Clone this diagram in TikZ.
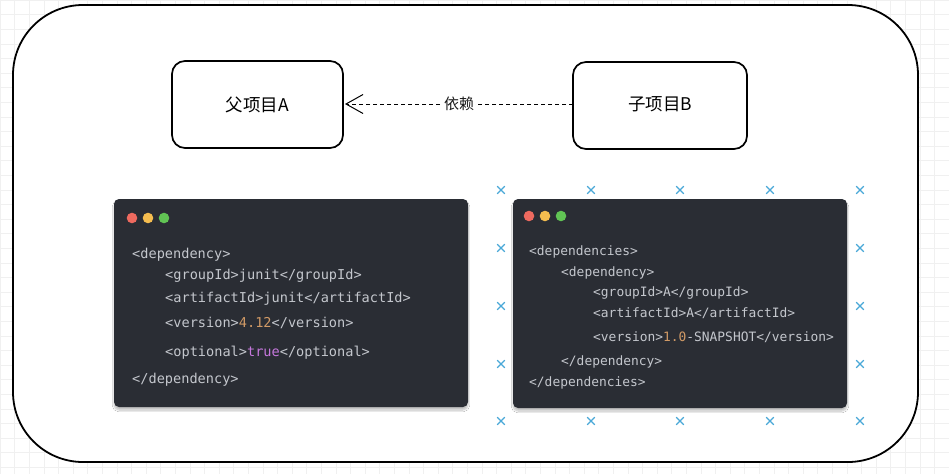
\documentclass[tikz,border=0pt]{standalone}
\usepackage{fontspec}
\newfontfamily\cjk{Noto Sans CJK SC}
\setmonofont{DejaVu Sans Mono}
\usetikzlibrary{arrows.meta,shadows.blur}
\definecolor{panelbg}{HTML}{2A2D34}
\definecolor{codefg}{HTML}{C4C7CD}
\definecolor{numc}{HTML}{D19A66}
\definecolor{kwc}{HTML}{C678DD}
\definecolor{dotr}{HTML}{EE6A5F}
\definecolor{doty}{HTML}{F5BD4F}
\definecolor{dotg}{HTML}{61C454}
\definecolor{xblue}{HTML}{4AA8D8}
\definecolor{gridc}{HTML}{F0F0F0}
\tikzset{
  sketchbox/.style={draw=black, line width=1.7pt, rounded corners=13pt},
  panel/.style={fill=panelbg, rounded corners=5pt, blur shadow={shadow blur steps=8, shadow xshift=0pt, shadow yshift=-3pt, shadow opacity=25}},
  codeA/.style={anchor=base west, inner sep=0pt, text=codefg, font=\fontsize{13.6}{15}\ttfamily},
  codeB/.style={anchor=base west, inner sep=0pt, text=codefg, font=\fontsize{12.9}{15}\ttfamily},
  boxlabel/.style={font=\cjk\fontsize{17.5}{20}\selectfont, text=black},
  depline/.style={dashed, dash pattern=on 4pt off 3pt, line width=0.9pt, -{Straight Barb[length=17pt,width=19pt,line width=1pt]}},
  xmark/.style={draw=xblue, line width=1.2pt}
}
\begin{document}
\begin{tikzpicture}[x=1pt,y=-1pt]
\useasboundingbox (0,0) rectangle (949,474);
% background grid
\fill[white] (0,0) rectangle (949,474);
\foreach \gx in {0,14.6,...,949} \draw[gridc, line width=0.6pt] (\gx,0) -- (\gx,474);
\foreach \gy in {0,14.6,...,474} \draw[gridc, line width=0.6pt] (0,\gy) -- (949,\gy);
% big frame
\draw[fill=white, line width=1.8pt, rounded corners=70pt] (13,5) rectangle (918,462);

% boxes
\draw[sketchbox] (172,61) rectangle (343,148);
\node[boxlabel] (A) at (257.5,104.5) {父项目A};
\draw[sketchbox] (573,62) rectangle (747,149);
\node[boxlabel] (B) at (660,104.5) {子项目B};
\coordinate (Aedge) at (345,104);
\coordinate (Bedge) at (573,104);
\draw[depline] (Bedge) -- node[fill=white, inner sep=1pt, font=\cjk\fontsize{15}{18}\selectfont, text=black!90] (dep) {依赖} (Aedge);

% blue x marks
\foreach \px/\py in {501/190,591/190,680/190,770/190,860/190,501/248,860/248,501/306,860/306,501/364,860/364,501/421,591/421,680/421,770/421,860/421}
  \draw[xmark] (\px-3.8,\py-3.8) -- (\px+3.8,\py+3.8) (\px-3.8,\py+3.8) -- (\px+3.8,\py-3.8);

% panel 1
\fill[panel] (114,199) rectangle (468,407);
\fill[dotr] (132,218) circle (5.3pt);
\fill[doty] (148,218) circle (5.3pt);
\fill[dotg] (164,218) circle (5.3pt);
\node[codeA] (a1) at (132,258.5) {<dependency>};
\node[codeA] (a2) at (165,279.5) {<groupId>junit</groupId>};
\node[codeA] (a3) at (165,302.5) {<artifactId>junit</artifactId>};
\node[codeA] (a4) at (165,327.5) {<version>\textcolor{numc}{4.12}</version>};
\node[codeA] (a5) at (165,356.5) {<optional>\textcolor{kwc}{true}</optional>};
\node[codeA] (a6) at (132,383.5) {</dependency>};

% panel 2
\fill[panel] (513,199) rectangle (847,408);
\fill[dotr] (529,216) circle (5.3pt);
\fill[doty] (545,216) circle (5.3pt);
\fill[dotg] (561,216) circle (5.3pt);
\node[codeB] (b1) at (529,255) {<dependencies>};
\node[codeB] (b2) at (561,276) {<dependency>};
\node[codeB] (b3) at (593,296.5) {<groupId>A</groupId>};
\node[codeB] (b4) at (593,317.5) {<artifactId>A</artifactId>};
\node[codeB] (b5) at (593,341) {<version>\textcolor{numc}{1.0}-SNAPSHOT</version>};
\node[codeB] (b6) at (561,365) {</dependency>};
\node[codeB] (b7) at (529,386) {</dependencies>};
\end{tikzpicture}
\end{document}
